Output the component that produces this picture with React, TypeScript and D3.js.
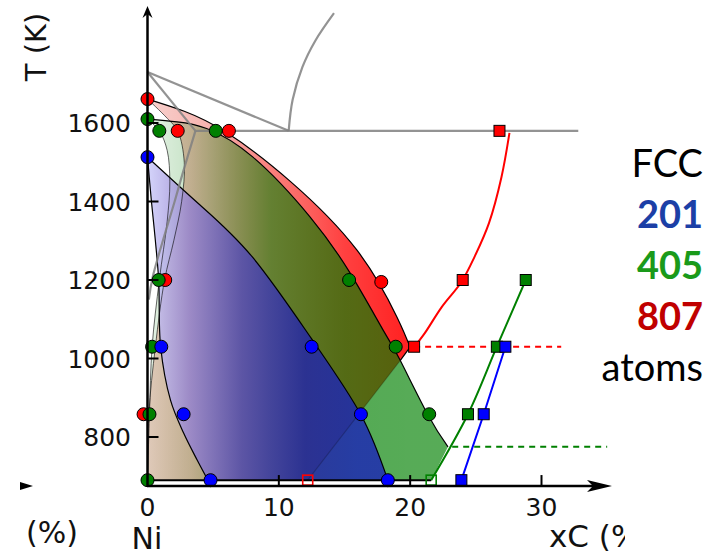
import React from 'react'
import * as d3 from 'd3'

type P = [number, number]

// phase boundaries for each particle size (xC %, T K)
const redLiquidus: P[] = [[0, 1661], [2.8, 1630], [6.05, 1575], [10.85, 1452], [15.95, 1276], [18.99, 1106], [19.99, 1029]]
const redTip: P = [19.25, 995]
const redSolidus: P[] = [[0, 1661], [1.5, 1612], [2.3, 1580], [2.8, 1500], [2.6, 1400], [2.0, 1300], [1.3, 1200], [0.6, 1030], [0.1, 858], [0, 690]]
const greenLiquidus: P[] = [[0, 1610], [2.25, 1603], [4.5, 1586], [8.03, 1513], [12.37, 1361], [15.42, 1218], [17.93, 1073], [19.23, 996], [21.36, 856], [22.88, 775]]
const greenSolidus: P[] = [[0, 1610], [0.9, 1580], [1.5, 1530], [1.7, 1450], [1.5, 1350], [0.9, 1200], [0.35, 1030], [0.15, 858], [0, 690]]
const blueLiquidus: P[] = [[0, 1513], [4, 1391], [8, 1258], [12.5, 1050], [16.26, 856], [18.3, 690]]
const blueSolidus: P[] = [[0, 1513], [0.3, 1400], [0.6, 1300], [0.85, 1200], [1.0, 1030], [1.75, 894], [2.75, 810], [3.8, 740], [4.6, 690]]

// graphite solubility lines
const redGraphite: P[] = [[20.3, 1029], [21.1, 1064], [22.4, 1131], [23.9, 1195], [24.9, 1259], [26.0, 1345], [26.95, 1462], [27.56, 1575]]
const greenGraphite: P[] = [[21.6, 690], [24.4, 858], [26.6, 1030], [28.8, 1200]]
const blueGraphite: P[] = [[23.9, 690], [25.6, 858], [27.25, 1030]]
const redDash: P[] = [[20.3, 1030], [31.5, 1030]]
const greenDash: P[] = [[23.2, 775], [35, 775]]

// bulk Ni-C diagram (grey)
const bulkLiquidus: P[] = [[0, 1730], [10.75, 1580]]
const bulkSolidus: P[] = [[0, 1730], [3.65, 1580]]
const bulkEutectic: P[] = [[3.65, 1580], [32.8, 1580]]
const bulkSolvus: P[] = [[3.65, 1580], [2.75, 1480], [2.1, 1404], [0.4, 1208], [0.1, 1150]]
const bulkGraphite: P[] = [[10.75, 1580], [11.05, 1659], [11.8, 1743], [12.8, 1811], [14.2, 1880]]

// simulation points
const redCircles: P[] = [[0, 1661], [2.3, 1580], [6.2, 1580], [17.8, 1195], [1.35, 1200], [-0.3, 858]]
const greenCircles: P[] = [[0, 1610], [0.9, 1580], [5.2, 1580], [15.35, 1200], [18.9, 1030], [21.45, 858], [0.85, 1200], [0.35, 1030], [0.15, 858], [0, 690]]
const blueCircles: P[] = [[0, 1513], [12.5, 1030], [16.25, 858], [18.3, 690], [1.05, 1030], [2.75, 858], [4.8, 690]]
const redSquares: P[] = [[20.3, 1030], [24.0, 1200], [26.8, 1580]]
const greenSquares: P[] = [[24.4, 858], [26.6, 1030], [28.8, 1200]]
const blueSquares: P[] = [[23.9, 690], [25.6, 858], [27.25, 1030]]
const redOpen: P = [12.2, 690]
const greenOpen: P = [21.6, 690]

const xTicks = [10, 20, 30]
const xTickLabels = ['0', '10', '20', '30']
const yTicks = [800, 1000, 1200, 1400, 1600]
const legendLines = [
  { text: 'FCC', color: '#000', bold: false },
  { text: '201', color: '#1c3fa6', bold: true },
  { text: '405', color: '#1a9a1a', bold: true },
  { text: '807', color: '#c00000', bold: true },
  { text: 'atoms', color: '#000', bold: false },
]

const xs = d3.scaleLinear().domain([0, 30]).range([147.5, 541.5])
const ys = d3.scaleLinear().domain([800, 1600]).range([437, 123])

const line = d3.line<P>().x(d => xs(d[0])).y(d => ys(d[1]))
const smooth = d3.line<P>().x(d => xs(d[0])).y(d => ys(d[1])).curve(d3.curveCatmullRom.alpha(0.5))
const arc = d3.line<P>().x(d => xs(d[0])).y(d => ys(d[1])).curve(d3.curveNatural)
const cont = (pts: P[]) => (smooth(pts) || '').replace(/^M/, 'L')
const pt = (d: P) => `L${xs(d[0])},${ys(d[1])}`

const redEdge = arc(redLiquidus) + pt(redTip)
const redArea = redEdge + pt(redOpen) + cont([...redSolidus].reverse()) + 'Z'
const greenArea = arc(greenLiquidus) + pt(greenOpen) + cont([...greenSolidus].reverse()) + 'Z'
const blueArea = arc(blueLiquidus) + cont([...blueSolidus].reverse()) + 'Z'

const font = 'DejaVu Sans, sans-serif'

function App() {
  const x0 = xs(0)
  const yAxis = ys(675)
  return (
    <svg width={721} height={555} style={{ position: 'absolute', left: 0, top: 0, background: '#fff' }}>
      <defs>
        <linearGradient id="gRed" gradientUnits="userSpaceOnUse" x1={xs(0)} x2={xs(20)} y1={0} y2={0}>
          <stop offset="0" stopColor="#f8d2ce" />
          <stop offset="0.25" stopColor="#f6b0ac" />
          <stop offset="0.5" stopColor="#fa7a76" />
          <stop offset="0.75" stopColor="#ff4040" />
          <stop offset="1" stopColor="#ff2020" />
        </linearGradient>
        <linearGradient id="gGreen" gradientUnits="userSpaceOnUse" x1={xs(0)} x2={xs(20)} y1={0} y2={0}>
          <stop offset="0" stopColor="#008000" stopOpacity={0.1} />
          <stop offset="0.165" stopColor="#008000" stopOpacity={0.22} />
          <stop offset="0.47" stopColor="#008000" stopOpacity={0.6} />
          <stop offset="0.75" stopColor="#008000" stopOpacity={0.67} />
          <stop offset="1" stopColor="#008000" stopOpacity={0.66} />
        </linearGradient>
        <linearGradient id="gBlue" gradientUnits="userSpaceOnUse" x1={xs(0)} x2={xs(16)} y1={0} y2={0}>
          <stop offset="0" stopColor="rgb(205,205,250)" stopOpacity={0.85} />
          <stop offset="0.2" stopColor="rgb(150,132,208)" stopOpacity={0.85} />
          <stop offset="0.45" stopColor="rgb(85,75,180)" stopOpacity={0.85} />
          <stop offset="0.75" stopColor="rgb(35,38,165)" stopOpacity={0.85} />
          <stop offset="1" stopColor="rgb(30,42,178)" stopOpacity={0.85} />
        </linearGradient>
        <clipPath id="cutRight">
          <rect x={0} y={0} width={625} height={555} />
        </clipPath>
      </defs>

      {/* two-phase regions */}
      <path d={redArea} fill="url(#gRed)" />
      <path d={greenArea} fill="url(#gGreen)" />
      <path d={blueArea} fill="url(#gBlue)" />

      {/* region outlines */}
      <g fill="none" stroke="#000" strokeWidth={1.2}>
        <path d={redEdge} />
        <path d={arc(greenLiquidus)!} />
        <path d={arc(blueLiquidus)!} />
        <path d={smooth(blueSolidus)!} />
        <path d={smooth(greenSolidus)!} strokeOpacity={0.6} strokeWidth={1} />
        <path d={smooth(redSolidus)!} strokeOpacity={0.6} strokeWidth={1} />
        <path d={line([redTip, redOpen])!} strokeOpacity={0.2} />
        <path d={line([[0, 690], greenOpen])!} strokeWidth={2} />
      </g>

      {/* bulk diagram */}
      <g fill="none" stroke="#808080" strokeWidth={2.2} strokeOpacity={0.85}>
        <path d={line(bulkLiquidus)!} />
        <path d={line(bulkSolidus)!} />
        <path d={line(bulkEutectic)!} />
        <path d={smooth(bulkSolvus)!} />
        <path d={smooth(bulkGraphite)!} />
      </g>

      {/* graphite solubility */}
      <g fill="none" strokeWidth={2}>
        <path d={smooth(redGraphite)!} stroke="#ff0000" />
        <path d={smooth(greenGraphite)!} stroke="#008000" />
        <path d={line(blueGraphite)!} stroke="#0000ff" />
        <path d={line(redDash)!} stroke="#ff0000" strokeDasharray="6,5" />
        <path d={line(greenDash)!} stroke="#008000" strokeDasharray="6,5" />
      </g>

      {/* markers */}
      <g stroke="#000" strokeWidth={1}>
        {redCircles.map((d, i) => <circle key={`rc${i}`} cx={xs(d[0])} cy={ys(d[1])} r={6.5} fill="#ff0000" />)}
        {greenCircles.map((d, i) => <circle key={`gc${i}`} cx={xs(d[0])} cy={ys(d[1])} r={6.5} fill="#008000" />)}
        {blueCircles.map((d, i) => <circle key={`bc${i}`} cx={xs(d[0])} cy={ys(d[1])} r={6.5} fill="#0000ff" />)}
        {redSquares.map((d, i) => <rect key={`rs${i}`} x={xs(d[0]) - 5.5} y={ys(d[1]) - 5.5} width={11} height={11} fill="#ff0000" />)}
        {greenSquares.map((d, i) => <rect key={`gs${i}`} x={xs(d[0]) - 5.5} y={ys(d[1]) - 5.5} width={11} height={11} fill="#008000" />)}
        {blueSquares.map((d, i) => <rect key={`bs${i}`} x={xs(d[0]) - 5.5} y={ys(d[1]) - 5.5} width={11} height={11} fill="#0000ff" />)}
      </g>
      <rect x={xs(redOpen[0]) - 5} y={ys(redOpen[1]) - 5} width={10} height={10} fill="none" stroke="#ff0000" strokeWidth={1.6} />
      <rect x={xs(greenOpen[0]) - 5} y={ys(greenOpen[1]) - 5} width={10} height={10} fill="none" stroke="#008000" strokeWidth={1.6} />

      {/* axes */}
      <g stroke="#000" strokeWidth={2.5}>
        <line x1={x0} y1={yAxis + 1} x2={x0} y2={10} />
        <line x1={x0} y1={yAxis} x2={600} y2={yAxis} />
        {yTicks.map(t => <line key={t} x1={x0} x2={x0 + 11} y1={ys(t)} y2={ys(t)} strokeWidth={2} />)}
        {xTicks.map(t => <line key={t} x1={xs(t)} x2={xs(t)} y1={yAxis} y2={yAxis - 11} strokeWidth={2} />)}
      </g>
      <path d={`M612,${yAxis} L587,${yAxis - 6} L593,${yAxis} L587,${yAxis + 6} Z`} fill="#000" />
      <path d={`M${x0},6 L${x0 - 5},18 L${x0},14 L${x0 + 5},18 Z`} fill="#000" />
      <path d={`M20,${yAxis - 4} L33,${yAxis} L20,${yAxis + 4} Z`} fill="#000" />

      <g fontFamily={font} fontSize={25} fill="#111">
        {yTicks.map(t => <text key={t} x={131} y={ys(t) + 9} textAnchor="end">{t}</text>)}
        {xTickLabels.map(t => <text key={t} x={xs(+t)} y={516} textAnchor="middle">{t}</text>)}
      </g>
      <text transform="translate(46,47) rotate(-90)" fontFamily={font} fontSize={29} textAnchor="middle" fill="#111">T (K)</text>
      <text x={52} y={543} fontFamily={font} fontSize={30} textAnchor="middle" fill="#111">(%)</text>
      <text x={147} y={549} fontFamily={font} fontSize={30} textAnchor="middle" fill="#111">Ni</text>
      <text x={549} y={547} fontFamily={font} fontSize={31} fill="#111" clipPath="url(#cutRight)">xC (%)</text>

      <g fontFamily="Lato, 'Open Sans', sans-serif" fontSize={38} textAnchor="end">
        {legendLines.map((l, i) => (
          <text key={l.text} x={703} y={177 + i * 51} fill={l.color} fontWeight={l.bold ? 700 : 400}>{l.text}</text>
        ))}
      </g>
    </svg>
  )
}

export default App
